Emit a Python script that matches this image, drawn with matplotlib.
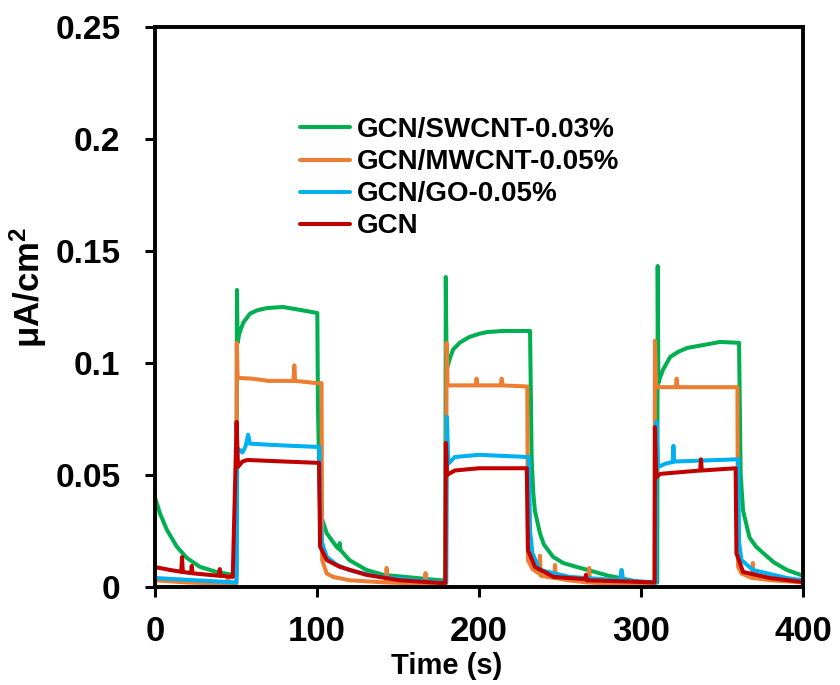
import matplotlib
matplotlib.use("Agg")
import matplotlib.pyplot as plt

# photocurrent transients, light on/off cycles
t_swcnt = [0, 3, 7.4, 13.5, 19.6, 27.7, 38, 48, 50.3, 50.6, 51.0, 52, 54.5, 58.6,
           63, 69, 79, 89.5, 100.2, 100.6, 101.9, 106, 112, 113.5, 114, 114.5,
           120, 130.5, 141, 161.5, 176, 179.2, 179.5, 180.0, 182, 184, 188, 194,
           200, 205, 215, 229.6, 231.5, 232.5, 233.5, 234.5, 237.6, 240, 245.8,
           252, 260, 270, 280, 287, 300, 310.0, 310.3, 310.7, 312, 313.6, 318, 323,
           328.4, 338.3, 348.8, 360.5, 361.5, 363, 367, 371, 375.6, 382, 390, 400]
i_swcnt = [0.040, 0.033, 0.0254, 0.018, 0.013, 0.009, 0.0067, 0.0054, 0.005,
           0.1326, 0.109, 0.113, 0.118, 0.122, 0.1235, 0.1245, 0.125, 0.1237,
           0.1223, 0.08, 0.033, 0.024, 0.018, 0.017, 0.0196, 0.0165, 0.012, 0.0076,
           0.0054, 0.004, 0.003, 0.003, 0.1384, 0.097, 0.102, 0.106, 0.109, 0.1116,
           0.113, 0.1138, 0.1143, 0.1143, 0.1143, 0.057, 0.042, 0.034, 0.024, 0.019,
           0.0134, 0.0107, 0.009, 0.007, 0.005, 0.004, 0.002, 0.002, 0.1433, 0.091,
           0.094, 0.097, 0.1027, 0.105, 0.1067, 0.108, 0.1094, 0.109, 0.05, 0.034,
           0.022, 0.018, 0.015, 0.011, 0.0076, 0.005]

t_mwcnt = [0, 20, 44.5, 45, 45.5, 50.2, 50.5, 51, 52, 60, 70, 85.5, 86, 86.5, 100,
           102.8, 103.2, 106, 110, 120, 142.5, 143, 143.5, 166.5, 167, 167.5,
           179.6, 180, 180.6, 198, 198.5, 199, 213.5, 214, 214.5, 229.8, 230.2, 233,
           237, 237.6, 238.2, 246.4, 246.9, 247.4, 255, 267.5, 268, 268.5, 290,
           308.3, 308.6, 309.3, 310, 321.5, 322, 322.5, 359.5, 359.9, 362, 368.5,
           369, 369.5, 380, 400]
i_mwcnt = [0.003, 0.002, 0.0015, 0.005, 0.0015, 0.0015, 0.109, 0.094, 0.0933,
           0.093, 0.092, 0.092, 0.099, 0.092, 0.091, 0.091, 0.012, 0.006, 0.0045,
           0.003, 0.002, 0.0085, 0.002, 0.0015, 0.0062, 0.0015, 0.0015, 0.109, 0.090,
           0.090, 0.093, 0.090, 0.090, 0.093, 0.090, 0.0895, 0.012, 0.008, 0.006,
           0.014, 0.005, 0.004, 0.0098, 0.004, 0.003, 0.002, 0.0085, 0.002, 0.001,
           0.001, 0.110, 0.090, 0.0892, 0.0892, 0.093, 0.0892, 0.0892, 0.009, 0.006,
           0.004, 0.0107, 0.004, 0.003, 0.002]

t_go = [0, 25, 50.3, 50.8, 54, 56, 57.5, 58.5, 70, 85, 101.5, 102, 103, 106, 112,
        120, 130.5, 140, 160, 179.8, 180.2, 181, 185, 200, 230.8, 231.5, 233, 237.6,
        256, 287, 288, 289, 309.2, 309.5, 310.5, 315, 319.5, 320, 320.5, 340, 360,
        360.5, 362, 369, 390, 400]
i_go = [0.004, 0.003, 0.002, 0.062, 0.060, 0.063, 0.068, 0.064, 0.0635, 0.063,
        0.0625, 0.030, 0.020, 0.0135, 0.010, 0.0075, 0.0058, 0.0045, 0.003, 0.002,
        0.076, 0.055, 0.058, 0.059, 0.058, 0.025, 0.015, 0.0076, 0.0045, 0.003,
        0.0076, 0.003, 0.002, 0.0737, 0.0536, 0.055, 0.0558, 0.063, 0.056, 0.0565,
        0.057, 0.020, 0.012, 0.0076, 0.004, 0.003]

t_gcn = [0, 10, 16.2, 16.7, 17.2, 22.2, 22.7, 23.2, 39.5, 40, 40.5, 48, 50.4, 51.2,
         54, 57, 80, 101.3, 101.9, 106, 114, 130.5, 151, 176, 179.2, 179.5, 180.3,
         185, 200, 229.5, 230.2, 234.5, 246, 265.5, 266, 266.5, 290, 308.4, 308.6,
         309.4, 312, 336.5, 337, 337.5, 358.4, 358.9, 363, 379.6, 400]
i_gcn = [0.0089, 0.0075, 0.0068, 0.0134, 0.0067, 0.0062, 0.0094, 0.0061, 0.005,
         0.008, 0.005, 0.0045, 0.0737, 0.0536, 0.056, 0.0567, 0.056, 0.0554, 0.018,
         0.012, 0.009, 0.0054, 0.003, 0.0018, 0.0018, 0.0643, 0.050, 0.052, 0.053,
         0.053, 0.0165, 0.009, 0.0045, 0.0035, 0.0054, 0.003, 0.0025, 0.002, 0.0714,
         0.049, 0.0505, 0.052, 0.057, 0.052, 0.053, 0.015, 0.0067, 0.004, 0.0022]

labels = ["GCN/SWCNT-0.03%", "GCN/MWCNT-0.05%", "GCN/GO-0.05%", "GCN"]
colors = ["#00B050", "#ED7D31", "#00B0F0", "#C00000"]

plt.rcParams["font.family"] = ["Liberation Sans", "DejaVu Sans"]
plt.rcParams["font.weight"] = "bold"
plt.rcParams["mathtext.fontset"] = "custom"
plt.rcParams["mathtext.bf"] = "Liberation Sans:bold"
plt.rcParams["mathtext.rm"] = "Liberation Sans:bold"
plt.rcParams["mathtext.default"] = "bf"

fig = plt.figure(figsize=(8.4, 6.85), dpi=100)
ax = fig.add_axes([0.1845, 0.1431, 0.7715, 0.8175])

series = [(t_swcnt, i_swcnt), (t_mwcnt, i_mwcnt), (t_go, i_go), (t_gcn, i_gcn)]
for (t, i), lab, col in zip(series, labels, colors):
    ax.plot(t, i, color=col, lw=2.9, label=lab,
            solid_joinstyle="round", solid_capstyle="round")

ax.set_xlim(0, 400)
ax.set_ylim(0, 0.25)
ax.set_xticks([0, 100, 200, 300, 400])
ax.set_yticks([0, 0.05, 0.1, 0.15, 0.2, 0.25])
ax.set_yticklabels(["0", "0.05", "0.1", "0.15", "0.2", "0.25"])

for s in ax.spines.values():
    s.set_linewidth(2.8)

ax.tick_params(axis="both", direction="out", length=7, width=2.2)
ax.tick_params(axis="y", labelsize=24, pad=18)
ax.tick_params(axis="x", labelsize=25, pad=13)

ax.set_xlabel("Time (s)", fontsize=21, fontweight="bold")
ax.xaxis.set_label_coords(0.45, -0.116)
ax.set_ylabel("μA/cm$^2$", fontsize=25, fontweight="bold")
ax.yaxis.set_label_coords(-0.163, 0.535)

ax.legend(loc="upper left", bbox_to_anchor=(0.224, 0.839), frameon=False,
          fontsize=20, handlelength=1.8, handletextpad=0.25, labelspacing=0.22,
          borderpad=0, borderaxespad=0)

fig.savefig("out.png", dpi=100)
